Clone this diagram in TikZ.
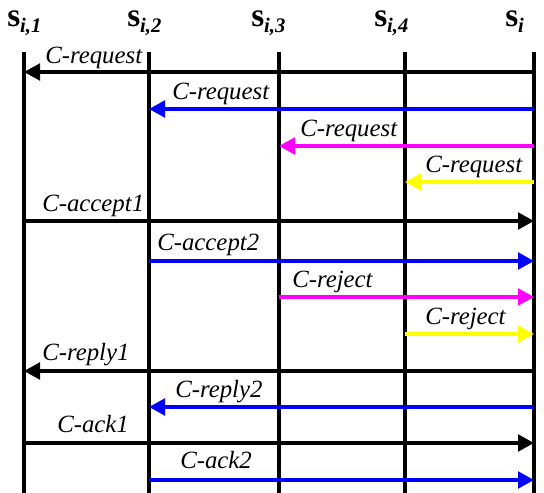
\documentclass[tikz,border=0pt]{standalone}
\usepackage{fontspec}
\setmainfont{Liberation Serif}
\usetikzlibrary{arrows.meta}
\definecolor{msgblue}{RGB}{0,0,255}
\definecolor{msgmag}{RGB}{255,0,255}
\definecolor{msgyel}{RGB}{255,255,0}
\tikzset{
  lifeline/.style={line width=2.4pt, black},
  msg/.style={line width=2.4pt, -{Triangle[length=12pt,width=12.5pt]}},
  lbl/.style={inner sep=0pt, anchor=base west, font=\fontsize{18.6}{22}\selectfont\itshape},
  hdr/.style={inner sep=0pt, anchor=base west, font=\fontsize{25}{28}\selectfont\bfseries},
}
\newcommand{\sname}[1]{s\raisebox{-5pt}{\fontsize{15.5}{17}\selectfont\bfseries\itshape #1}}
\begin{document}
\begin{tikzpicture}[x=0.75pt,y=-0.75pt]
\useasboundingbox (0,0) rectangle (544,493);
% lifeline tops and bottoms
\coordinate (t1) at (24,52);  \coordinate (b1) at (24,493);
\coordinate (t2) at (149,52); \coordinate (b2) at (149,493);
\coordinate (t3) at (279,52); \coordinate (b3) at (279,493);
\coordinate (t4) at (405,52); \coordinate (b4) at (405,493);
\coordinate (t5) at (534,52); \coordinate (b5) at (534,493);
\foreach \i in {1,...,5} \draw[lifeline] (t\i) -- (b\i);
% headers
\node[hdr] (h1) at (7,26)   {\sname{i,1}};
\node[hdr] (h2) at (127,26) {\sname{i,2}};
\node[hdr] (h3) at (251,26) {\sname{i,3}};
\node[hdr] (h4) at (374,26) {\sname{i,4}};
\node[hdr] (h5) at (505,26) {\sname{i}};
% message heights
\coordinate (m1) at (0,72);
\coordinate (m2) at (0,109);
\coordinate (m3) at (0,146);
\coordinate (m4) at (0,182);
\coordinate (m5) at (0,221);
\coordinate (m6) at (0,261);
\coordinate (m7) at (0,297);
\coordinate (m8) at (0,334);
\coordinate (m9) at (0,371);
\coordinate (m10) at (0,407);
\coordinate (m11) at (0,443);
\coordinate (m12) at (0,480);
% messages
\draw[msg, black]   (t5|-m1) -- (t1|-m1);
\draw[msg, msgblue] (t5|-m2) -- (t2|-m2);
\draw[msg, msgmag]  (t5|-m3) -- (t3|-m3);
\draw[msg, msgyel]  (t5|-m4) -- (t4|-m4);
\draw[msg, black]   (t1|-m5) -- (t5|-m5);
\draw[msg, msgblue] (t2|-m6) -- (t5|-m6);
\draw[msg, msgmag]  (t3|-m7) -- (t5|-m7);
\draw[msg, msgyel]  (t4|-m8) -- (t5|-m8);
\draw[msg, black]   (t5|-m9) -- (t1|-m9);
\draw[msg, msgblue] (t5|-m10) -- (t2|-m10);
\draw[msg, black]   (t1|-m11) -- (t5|-m11);
\draw[msg, msgblue] (t2|-m12) -- (t5|-m12);
% labels
\node[lbl] (l1) at (45,63)   {C-request};
\node[lbl] (l2) at (172,99)  {C-request};
\node[lbl] (l3) at (300,136) {C-request};
\node[lbl] (l4) at (425,172) {C-request};
\node[lbl] (l5) at (42,211)  {C-accept1};
\node[lbl] (l6) at (157,250) {C-accept2};
\node[lbl] (l7) at (292,287) {C-reject};
\node[lbl] (l8) at (425,324) {C-reject};
\node[lbl] (l9) at (42,360)  {C-reply1};
\node[lbl] (l10) at (175,397) {C-reply2};
\node[lbl] (l11) at (57,432)  {C-ack1};
\node[lbl] (l12) at (180,468) {C-ack2};
\end{tikzpicture}
\end{document}
